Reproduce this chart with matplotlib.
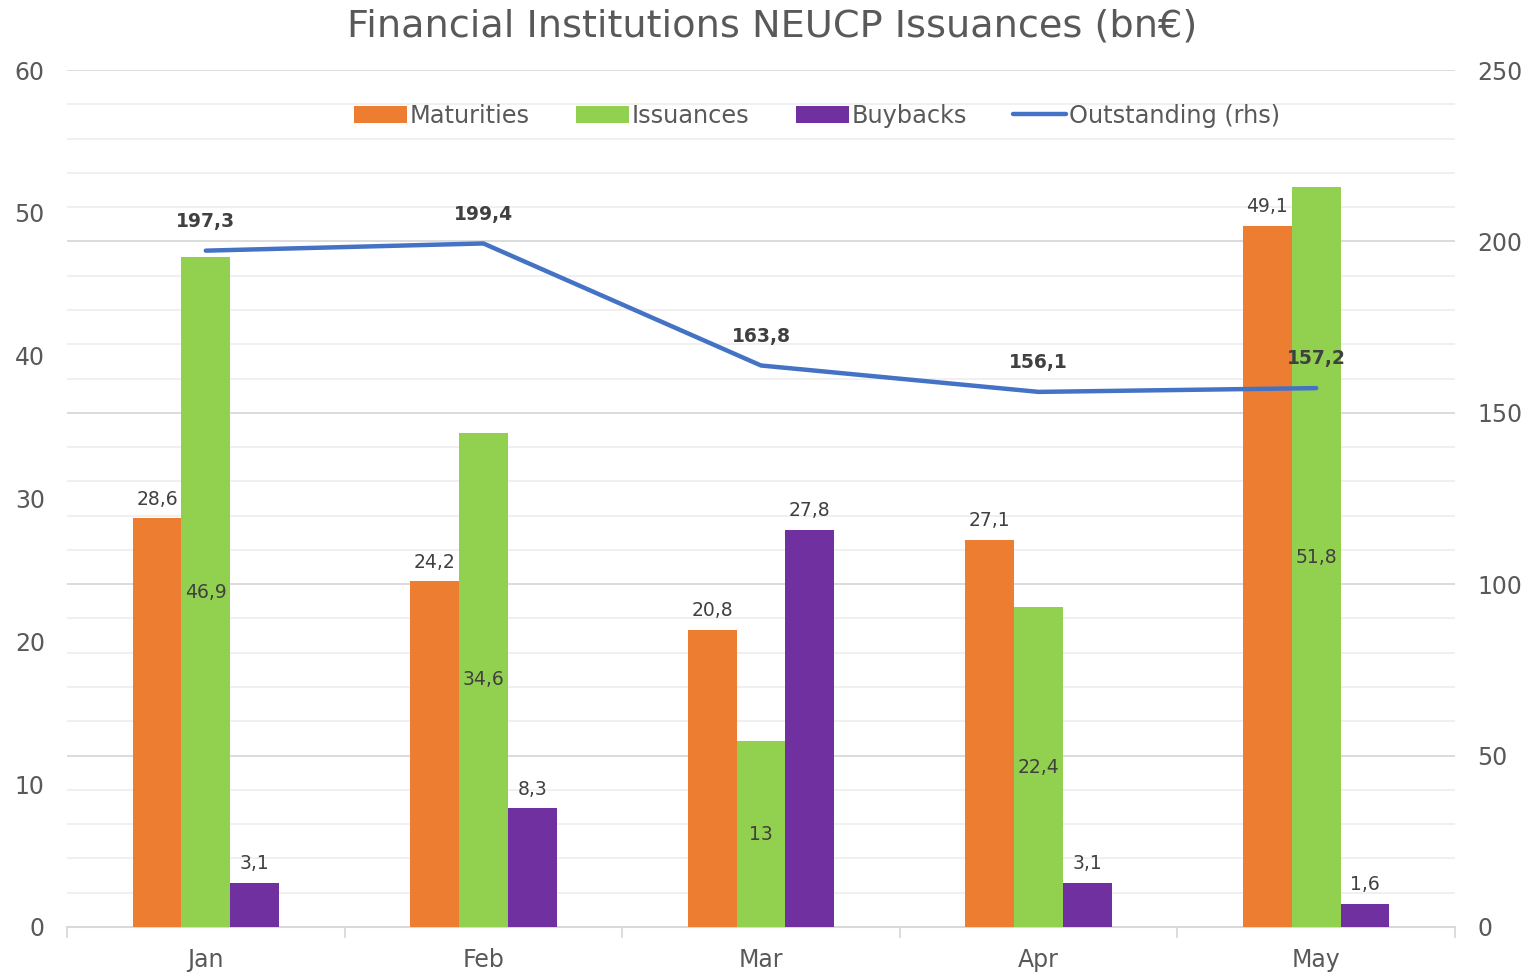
import numpy as np
import matplotlib
matplotlib.use('Agg')
import matplotlib.pyplot as plt

months = ['Jan', 'Feb', 'Mar', 'Apr', 'May']
maturities = [28.6, 24.2, 20.8, 27.1, 49.1]
issuances = [46.9, 34.6, 13.0, 22.4, 51.8]
buybacks = [3.1, 8.3, 27.8, 3.1, 1.6]
outstanding = [197.3, 199.4, 163.8, 156.1, 157.2]

c_mat = '#ED7D31'
c_iss = '#92D050'
c_buy = '#7030A0'
c_out = '#4472C4'
txt = '#595959'

plt.rcParams['font.family'] = ['DejaVu Sans']


def fmt(v):
    s = ('%.1f' % v).rstrip('0').rstrip('.')
    return s.replace('.', ',')


fig = plt.figure(figsize=(15.38, 9.77), dpi=100)
rect = [67 / 1538, 50 / 977, 1388 / 1538, 857 / 977]

# grid / right scale axis (bottom layer)
axg = fig.add_axes(rect)
# bars axis
ax = fig.add_axes(rect, sharex=axg)
# line axis
axl = fig.add_axes(rect, sharex=axg)
for a in (ax, axl):
    a.patch.set_visible(False)
axg.set_zorder(0)
ax.set_zorder(1)
axl.set_zorder(2)

x = np.arange(len(months))
w = 0.176

# grid axis: right labels + gridlines
axg.set_ylim(0, 250)
axg.yaxis.tick_right()
axg.set_yticks(np.arange(0, 251, 50))
axg.set_yticks(np.arange(0, 251, 10), minor=True)
axg.grid(which='major', axis='y', color='#d9d9d9', linewidth=1.3)
axg.grid(which='minor', axis='y', color='#efefef', linewidth=1.3)
axg.tick_params(axis='y', which='both', length=0, labelsize=17, labelcolor=txt, pad=16)
for s in axg.spines.values():
    s.set_visible(False)
axg.spines['bottom'].set_visible(True)
axg.spines['bottom'].set_color('#d9d9d9')
axg.spines['bottom'].set_linewidth(1.5)
axg.set_xlim(-0.5, len(months) - 0.5)
axg.set_xticks(np.arange(-0.5, len(months), 1))
axg.set_xticklabels([])
axg.set_xticks(x, minor=True)
axg.set_xticklabels(months, minor=True)
axg.tick_params(axis='x', which='major', length=8, color='#d9d9d9', width=1.3)
axg.tick_params(axis='x', which='minor', length=0, labelsize=17, labelcolor=txt, pad=15)

# bars
ax.set_ylim(0, 60)
b1 = ax.bar(x - w, maturities, w, color=c_mat, label='Maturities')
b2 = ax.bar(x, issuances, w, color=c_iss, label='Issuances')
b3 = ax.bar(x + w, buybacks, w, color=c_buy, label='Buybacks')
ax.set_yticks(np.arange(0, 61, 10))
ax.tick_params(axis='y', length=0, labelsize=17, labelcolor=txt, pad=16)
ax.tick_params(axis='x', which='both', length=0, labelbottom=False)
for s in ax.spines.values():
    s.set_visible(False)

for xi, v in zip(x, maturities):
    ax.annotate(fmt(v), (xi - w, v), xytext=(0, 7), textcoords='offset points',
                ha='center', va='bottom', fontsize=13.5, color='#404040')
for xi, v in zip(x, issuances):
    ax.text(xi, v / 2, fmt(v), ha='center', va='center', fontsize=13.5, color='#404040')
for xi, v in zip(x, buybacks):
    ax.annotate(fmt(v), (xi + w, v), xytext=(0, 7), textcoords='offset points',
                ha='center', va='bottom', fontsize=13.5, color='#404040')

# line
axl.set_ylim(0, 250)
ln, = axl.plot(x, outstanding, color=c_out, linewidth=3.2, solid_capstyle='round',
               label='Outstanding (rhs)')
axl.axis('off')
for xi, v in zip(x, outstanding):
    axl.annotate(fmt(v), (xi, v), xytext=(0, 21), textcoords='offset points',
                 ha='center', va='center', fontsize=13.5, fontweight='bold', color='#404040')

fig.legend([b1, b2, b3, ln], ['Maturities', 'Issuances', 'Buybacks', 'Outstanding (rhs)'],
           loc='center', bbox_to_anchor=(817 / 1538, 1 - 116 / 977), ncol=4, frameon=False,
           fontsize=17.3, labelcolor=txt, handlelength=2.2, handletextpad=0.1,
           columnspacing=1.95, handleheight=0.75)

fig.suptitle('Financial Institutions NEUCP Issuances (bn€)', x=772 / 1538, y=1 - 26 / 977,
             va='center', fontsize=27.5, color=txt)

fig.savefig('out.png', dpi=100, facecolor='white')
